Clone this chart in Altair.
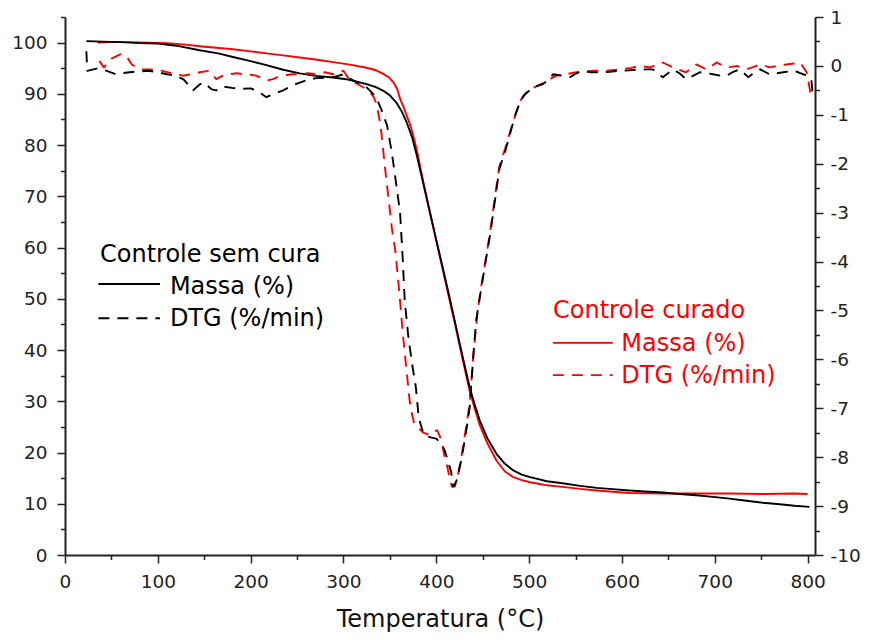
import altair as alt
import pandas as pd

# ---------------- data ----------------
# Controle sem cura - Massa (%)
T_MASS_SC = [23, 40, 60, 80, 100, 120, 145, 165, 181, 200, 217, 235, 253, 270, 289, 305, 325, 335,
             343, 350, 357, 363, 368, 374, 379, 386, 393, 400, 407, 414, 420, 428, 436, 442, 447,
             455, 465, 474, 483, 492, 501, 510, 519, 536, 555, 573, 590, 608, 625, 644, 662, 680,
             698, 716, 734, 752, 770, 786, 802]
MASS_SC = [100.3, 100.2, 100.1, 99.9, 99.8, 99.4, 98.5, 97.9, 97.2, 96.4, 95.6, 94.7, 94.0, 93.5,
           93.2, 92.8, 91.9, 91.3, 90.6, 89.7, 88.3, 86.5, 84.5, 81.5, 78.0, 72.5, 67.0, 61.5, 56.0,
           50.5, 45.6, 39.0, 32.7, 29.0, 26.2, 22.8, 19.7, 17.8, 16.5, 15.7, 15.2, 14.8, 14.4, 14.0,
           13.5, 13.1, 12.85, 12.6, 12.4, 12.2, 11.9, 11.65, 11.35, 11.0, 10.6, 10.2, 9.9, 9.6, 9.4]

# Controle curado - Massa (%)
T_MASS_C = [35, 50, 70, 90, 110, 130, 145, 163, 181, 200, 217, 235, 253, 270, 289, 307, 325, 335,
            343, 349, 354, 358, 361, 365, 368, 372, 376, 380, 386, 393, 400, 407, 414, 420, 428,
            436, 442, 447, 455, 465, 474, 483, 492, 501, 510, 519, 536, 555, 573, 590, 608, 625,
            644, 662, 680, 698, 716, 734, 752, 770, 786, 800]
MASS_C = [100.0, 100.1, 100.1, 100.0, 99.9, 99.6, 99.3, 99.0, 98.7, 98.3, 97.9, 97.5, 97.1, 96.7,
          96.2, 95.7, 95.1, 94.6, 93.9, 93.2, 92.2, 90.9, 89.0, 87.3, 85.8, 83.9, 81.3, 78.2, 72.8,
          67.0, 61.3, 55.7, 50.0, 45.2, 38.5, 32.0, 28.2, 25.3, 21.8, 18.4, 16.3, 15.2, 14.6, 14.2,
          13.9, 13.6, 13.3, 12.9, 12.6, 12.35, 12.1, 12.05, 12.0, 12.0, 12.0, 12.0, 12.0, 11.95,
          11.9, 11.95, 12.0, 11.9]

# Controle sem cura - DTG (%/min)
T_DTG_SC = [23, 24, 35, 45, 55, 65, 75, 90, 100, 110, 120, 128, 138, 145, 150, 158, 163, 170, 180,
            190, 200, 208, 217, 225, 235, 245, 253, 262, 271, 280, 289, 295, 300, 306, 311, 318,
            325, 331, 336, 341, 347, 352, 357, 361, 364, 366, 370, 374, 378, 381, 385, 389, 395,
            400, 405, 409, 413, 416, 418, 420, 422, 427, 432, 436, 440, 443, 448, 452, 458, 463,
            468, 474, 479, 485, 490, 494, 504, 515, 520, 526, 535, 544, 551, 558, 567, 576, 587,
            597, 608, 619, 633, 644, 655, 662, 669, 677, 684, 691, 698, 706, 713, 720, 727, 736,
            742, 749, 759, 767, 774, 785, 790, 795, 800, 804, 806]
DTG_SC = [0.3, -0.1, -0.05, -0.1, -0.17, -0.14, -0.12, -0.1, -0.13, -0.17, -0.2, -0.28, -0.5,
          -0.38, -0.34, -0.48, -0.5, -0.42, -0.45, -0.47, -0.46, -0.52, -0.64, -0.57, -0.5, -0.4,
          -0.34, -0.28, -0.25, -0.24, -0.23, -0.2, -0.17, -0.25, -0.3, -0.36, -0.44, -0.55, -0.68,
          -0.9, -1.22, -1.76, -2.44, -3.0, -4.0, -4.8, -5.56, -6.1, -6.57, -7.18, -7.45, -7.57,
          -7.6, -7.62, -7.72, -7.86, -8.1, -8.3, -8.6, -8.55, -8.47, -8.06, -7.5, -6.98, -5.9,
          -5.2, -4.6, -4.13, -3.45, -2.78, -2.1, -1.76, -1.42, -1.01, -0.75, -0.61, -0.44, -0.37,
          -0.3, -0.17, -0.2, -0.23, -0.15, -0.1, -0.13, -0.13, -0.12, -0.1, -0.09, -0.07, -0.07,
          -0.23, -0.07, -0.15, -0.27, -0.2, -0.13, -0.15, -0.17, -0.2, -0.2, -0.12, -0.07, -0.23,
          -0.15, -0.07, -0.17, -0.15, -0.13, -0.1, -0.13, -0.17, -0.2, -0.27, -0.68]

# Controle curado - DTG (%/min)
T_DTG_C = [37, 42, 50, 60, 66, 72, 80, 92, 105, 115, 127, 137, 145, 155, 163, 170, 177, 185, 192,
           200, 206, 212, 217, 224, 230, 235, 245, 253, 262, 271, 280, 289, 295, 300, 307, 313,
           318, 324, 329, 333, 336, 340, 343, 346, 349, 352, 356, 359, 361, 364, 368, 371, 373,
           376, 380, 386, 393, 398, 401, 404, 407, 409, 412, 415, 417, 420, 423, 427, 432, 436,
           440, 444, 448, 452, 458, 463, 468, 474, 479, 486, 491, 497, 504, 510, 520, 529, 540,
           551, 560, 569, 584, 598, 610, 619, 630, 637, 644, 655, 662, 669, 675, 680, 691, 697,
           702, 713, 718, 724, 734, 742, 749, 759, 768, 777, 785, 792, 799, 803]
DTG_C = [0.1, -0.03, 0.15, 0.24, 0.2, 0.03, -0.07, -0.07, -0.1, -0.15, -0.2, -0.17, -0.13, -0.1,
         -0.27, -0.2, -0.17, -0.15, -0.17, -0.18, -0.2, -0.25, -0.3, -0.27, -0.22, -0.2, -0.17,
         -0.17, -0.15, -0.17, -0.13, -0.17, -0.12, -0.1, -0.3, -0.35, -0.4, -0.47, -0.54, -0.65,
         -0.81, -1.22, -1.76, -2.3, -2.78, -3.3, -3.8, -4.4, -4.81, -5.49, -6.23, -6.8, -7.05,
         -7.3, -7.39, -7.5, -7.55, -7.47, -7.45, -7.58, -7.8, -8.0, -8.2, -8.5, -8.6, -8.6, -8.4,
         -8.0, -7.4, -6.9, -5.9, -5.1, -4.55, -4.1, -3.4, -2.7, -2.05, -1.7, -1.38, -0.95, -0.7,
         -0.54, -0.45, -0.4, -0.3, -0.2, -0.17, -0.13, -0.12, -0.1, -0.1, -0.07, -0.04, 0.0,
         -0.03, 0.02, 0.07, -0.03, -0.08, -0.13, -0.05, 0.03, -0.07, 0.0, 0.07, -0.03, -0.02, 0.0,
         -0.07, -0.02, 0.03, -0.03, 0.0, 0.03, 0.05, 0.07, -0.13, -0.54]

# axis ticks (major with labels, minor without)
X_MAJOR = [i * 100 for i in range(9)]                 # 0 ... 800
X_MINOR = [50 + i * 100 for i in range(8)]            # 50 ... 750
YL_MAJOR = [i * 10 for i in range(11)]                # 0 ... 100
YL_MINOR = [5 + i * 10 for i in range(11)]            # 5 ... 105
YR_MAJOR = [-10 + i for i in range(12)]               # -10 ... 1
YR_MINOR = [-9.5 + i for i in range(11)]              # -9.5 ... 0.5

# legend (text positions in data units: temperature, massa)
LEG_TEXT = ["Controle sem cura", "Massa (%)", "DTG (%/min)",
            "Controle curado", "Massa (%)", "DTG (%/min)"]
LEG_TEXT_X = [37.7, 113, 113, 525.8, 599.4, 599.4]
LEG_TEXT_Y = [57.1, 50.9, 44.7, 46.3, 39.8, 33.65]
LEG_TEXT_COLOR = ["black", "black", "black", "red", "red", "red"]
LEG_LINE_X = [36, 36, 525.6, 525.6]
LEG_LINE_X2 = [102.3, 102.3, 590, 590]
LEG_LINE_Y = [52.9, 46.2, 41.4, 35.1]
LEG_LINE_COLOR = ["black", "black", "red", "red"]
LEG_LINE_DASHED = [False, True, False, True]

# ---------------- chart ----------------
FONT = "DejaVu Sans"
AXC = "#222222"
BLACK = "#000000"
RED = "#ff0000"
DASH = [11, 8]

color_scale = alt.Scale(domain=["black", "red"], range=[BLACK, RED])

common_axis = dict(
    grid=False, labelFont=FONT, labelFontSize=18.5, labelColor=AXC, labelOverlap=False,
    labelFlush=False, domainColor=AXC, domainWidth=2, tickColor=AXC, tickWidth=1.5,
)

x_scale = alt.Scale(domain=[0, 808], nice=False, zero=False)
yl_scale = alt.Scale(domain=[0, 105], nice=False, zero=False)
yr_scale = alt.Scale(domain=[-10, 1], nice=False, zero=False)

x_axis = alt.Axis(
    values=X_MAJOR, labelExpr="'' + datum.value", tickSize=8, labelPadding=9,
    title="Temperatura (°C)", titleFont=FONT, titleFontSize=24, titleFontWeight="normal",
    titleColor="#111111", titleBaseline="alphabetic", titleY=71, orient="bottom", **common_axis,
)
yl_axis = alt.Axis(
    values=YL_MAJOR, labelExpr="'' + datum.value", tickSize=8, labelPadding=10, title=None,
    orient="left", **common_axis,
)
yr_axis = alt.Axis(
    values=YR_MAJOR, labelExpr="'' + datum.value", tickSize=8, labelPadding=7, title=None,
    orient="right", **common_axis,
)


def minor_axis(values, orient):
    return alt.Axis(values=values, orient=orient, labels=False, domain=False, grid=False,
                    tickSize=4.5, tickColor=AXC, tickWidth=1.5, title=None)


def line(ts, vs, color, dashed, y_scale, x_axis_=None, y_axis_=None, opacity=1.0):
    df = pd.DataFrame({"T": ts, "v": vs})
    mk = dict(color=color, strokeWidth=1.9, strokeJoin="round", opacity=opacity)
    if dashed:
        mk["strokeDash"] = DASH
    return alt.Chart(df).mark_line(**mk).encode(
        x=alt.X("T:Q", scale=x_scale, axis=x_axis_),
        y=alt.Y("v:Q", scale=y_scale, axis=y_axis_),
        order="T:Q",
    )


mass_red = line(T_MASS_C, MASS_C, RED, False, yl_scale, x_axis, yl_axis)
mass_black = line(T_MASS_SC, MASS_SC, BLACK, False, yl_scale)
x_minor = line(T_MASS_C, MASS_C, RED, False, yl_scale, minor_axis(X_MINOR, "bottom"), None, 0.0)
yl_minor = line(T_MASS_C, MASS_C, RED, False, yl_scale, None, minor_axis(YL_MINOR, "left"), 0.0)

leg_text_df = pd.DataFrame({"x": LEG_TEXT_X, "y": LEG_TEXT_Y, "t": LEG_TEXT, "c": LEG_TEXT_COLOR})
leg_text = alt.Chart(leg_text_df).mark_text(
    align="left", baseline="alphabetic", font=FONT, fontSize=24
).encode(
    x=alt.X("x:Q", scale=x_scale, axis=None),
    y=alt.Y("y:Q", scale=yl_scale, axis=None),
    text="t:N",
    color=alt.Color("c:N", scale=color_scale, legend=None),
)

leg_line_df = pd.DataFrame({"x": LEG_LINE_X, "x2": LEG_LINE_X2, "y": LEG_LINE_Y,
                            "c": LEG_LINE_COLOR, "d": LEG_LINE_DASHED})


def leg_rules(dashed):
    mk = dict(strokeWidth=1.9)
    if dashed:
        mk["strokeDash"] = DASH
    return alt.Chart(leg_line_df).transform_filter(
        "datum.d" if dashed else "!datum.d"
    ).mark_rule(**mk).encode(
        x=alt.X("x:Q", scale=x_scale, axis=None),
        x2="x2:Q",
        y=alt.Y("y:Q", scale=yl_scale, axis=None),
        color=alt.Color("c:N", scale=color_scale, legend=None),
    )


left = alt.layer(
    mass_red, x_minor, yl_minor, mass_black, leg_rules(False), leg_rules(True), leg_text
).resolve_axis(x="independent", y="independent")

dtg_red = line(T_DTG_C, DTG_C, RED, True, yr_scale, None, yr_axis)
yr_minor = line(T_DTG_C, DTG_C, RED, False, yr_scale, None, minor_axis(YR_MINOR, "right"), 0.0)
dtg_black = line(T_DTG_SC, DTG_SC, BLACK, True, yr_scale)
right = alt.layer(dtg_red, yr_minor, dtg_black).resolve_axis(y="independent")

chart = alt.layer(left, right).resolve_scale(y="independent").properties(
    width=750,
    height=538,
    padding={"left": 57, "top": 9, "right": 46, "bottom": 77},
    autosize=alt.AutoSizeParams(type="none"),
    background="white",
).configure_view(stroke=None)

chart.save("out.html", embed_options={"renderer": "svg", "actions": False})
